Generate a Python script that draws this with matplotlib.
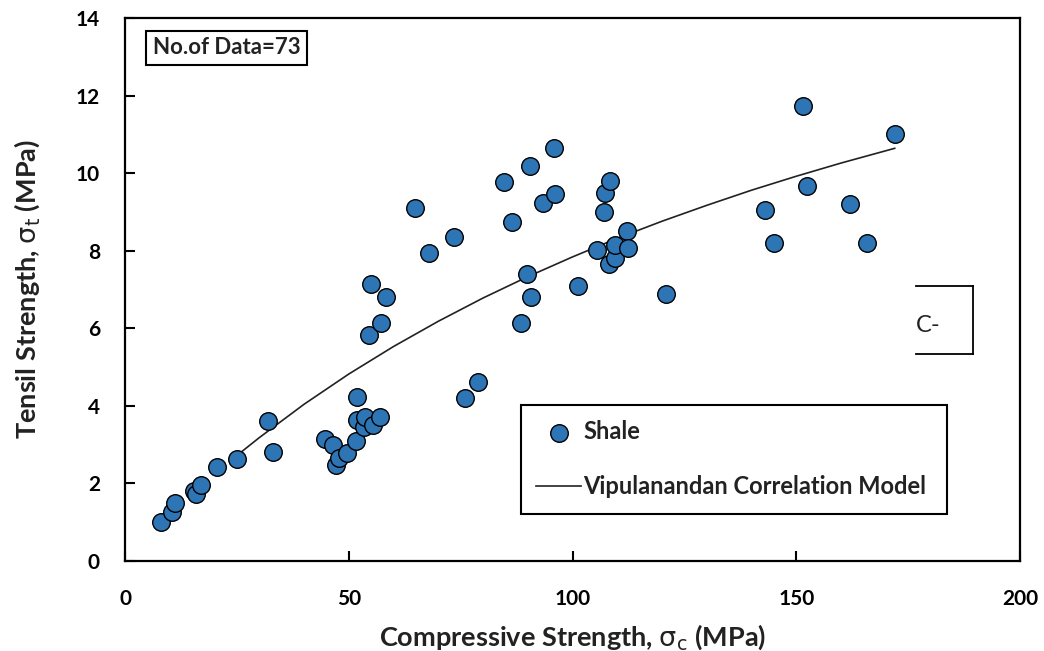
import numpy as np
import matplotlib.pyplot as plt
from matplotlib.lines import Line2D

plt.rcParams['font.family'] = ['Lato', 'DejaVu Sans']
plt.rcParams['mathtext.fontset'] = 'dejavusans'

# Shale data: compressive strength (MPa), tensile strength (MPa)
shale_qu = [8.0, 10.4, 11.2, 15.5, 15.9, 17.0, 20.5, 25.1, 31.9, 33.0,
            44.7, 46.5, 47.2, 47.9, 49.6, 51.7, 51.8, 53.3, 53.7, 55.5,
            57.0, 51.8, 54.6, 57.2, 58.3, 55.0, 64.7, 68.0, 73.5, 75.9,
            78.9, 84.8, 86.4, 88.5, 89.9, 90.8, 90.5, 93.4, 96.0, 95.8,
            101.3, 105.5, 107.0, 107.2, 108.3, 108.1, 109.4, 109.6, 112.2, 112.4,
            121.0, 143.0, 145.0, 151.4, 152.5, 162.0, 165.7, 172.1]
shale_st = [1.01, 1.27, 1.50, 1.80, 1.73, 1.96, 2.42, 2.63, 3.61, 2.80,
            3.14, 2.99, 2.47, 2.65, 2.78, 3.10, 3.63, 3.46, 3.72, 3.50,
            3.72, 4.22, 5.82, 6.13, 6.80, 7.14, 9.11, 7.93, 8.36, 4.21,
            4.62, 9.76, 8.75, 6.13, 7.40, 6.81, 10.18, 9.24, 9.45, 10.66,
            7.10, 8.02, 9.00, 9.48, 9.79, 7.67, 7.80, 8.14, 8.51, 8.07,
            6.88, 9.06, 8.20, 11.73, 9.66, 9.21, 8.20, 11.02]

# Vipulanandan correlation model curve
model_qu = [25, 30, 40, 50, 60, 70, 80, 90, 100, 110, 120, 130, 140, 150, 160, 172]
model_st = [2.72, 3.18, 4.04, 4.82, 5.53, 6.18, 6.78, 7.33, 7.84, 8.32, 8.76,
            9.17, 9.56, 9.92, 10.26, 10.64]

fig = plt.figure(figsize=(10.44, 6.51), dpi=100)
ax = fig.add_axes([125 / 1044, 90 / 651, 895 / 1044, 543 / 651])

ax.plot(model_qu, model_st, color='#222222', linewidth=1.2, zorder=2,
        label='Vipulanandan Correlation Model')
ax.scatter(shale_qu, shale_st, s=160, color='#2E75B6', edgecolors='black',
           linewidths=1.0, zorder=3, label='Shale')

ax.set_xlim(0, 200)
ax.set_ylim(0, 14)
ax.set_xticks(np.arange(0, 201, 50))
ax.set_yticks(np.arange(0, 15, 2))
ax.tick_params(direction='in', length=7, width=1.5, labelsize=15)
ax.tick_params(axis='x', pad=20)
ax.tick_params(axis='y', pad=18)
for lab in ax.get_xticklabels() + ax.get_yticklabels():
    lab.set_fontweight('bold')
for sp in ax.spines.values():
    sp.set_linewidth(1.6)
    sp.set_color('black')

ax.set_xlabel(r'Compressive Strength, $\mathrm{\sigma_c}$ (MPa)', fontsize=19.5,
              fontweight='bold', color='#222222', va='top')
ax.xaxis.set_label_coords(0.5, -(622 - 561) / 543)
ax.set_ylabel(r'Tensil Strength, $\mathrm{\sigma_t}$ (MPa)', fontsize=19.5,
              fontweight='bold', color='#222222', va='center')
ax.yaxis.set_label_coords(-(125 - 27) / 895, 0.5)

ax.text((153 - 125) / 895, 1 - (48 - 18) / 543, 'No.of Data=73',
        transform=ax.transAxes, fontsize=16, fontweight='bold',
        color='#222222', va='center', ha='left',
        bbox=dict(boxstyle='square,pad=0.3', facecolor='white',
                  edgecolor='black', linewidth=1.5))

handles, labels = ax.get_legend_handles_labels()
leg = ax.legend(handles[::-1], labels[::-1], loc='upper left',
                bbox_to_anchor=((521 - 125) / 895, 1 - (518 - 18) / 543,
                                (947 - 521) / 895, (518 - 405) / 543),
                mode='expand', fontsize=17, frameon=True, fancybox=False,
                framealpha=1, edgecolor='black', handlelength=1.9,
                handletextpad=0.1, labelspacing=1.35, borderpad=0.65,
                borderaxespad=0)
leg.get_frame().set_linewidth(1.5)
for t in leg.get_texts():
    t.set_fontweight('bold')
    t.set_color('#222222')

# partly hidden text box on the right
fig.add_artist(Line2D([916 / 1044, 973 / 1044], [1 - 286 / 651, 1 - 286 / 651],
                      color='black', linewidth=1.3))
fig.add_artist(Line2D([916 / 1044, 973 / 1044], [1 - 354 / 651, 1 - 354 / 651],
                      color='black', linewidth=1.3))
fig.add_artist(Line2D([973 / 1044, 973 / 1044], [1 - 286 / 651, 1 - 354 / 651],
                      color='black', linewidth=1.3))
fig.text(916 / 1044, 1 - 325 / 651, 'C-', fontsize=17, color='#222222',
         ha='left', va='center')

fig.savefig('out.png', dpi=100)
